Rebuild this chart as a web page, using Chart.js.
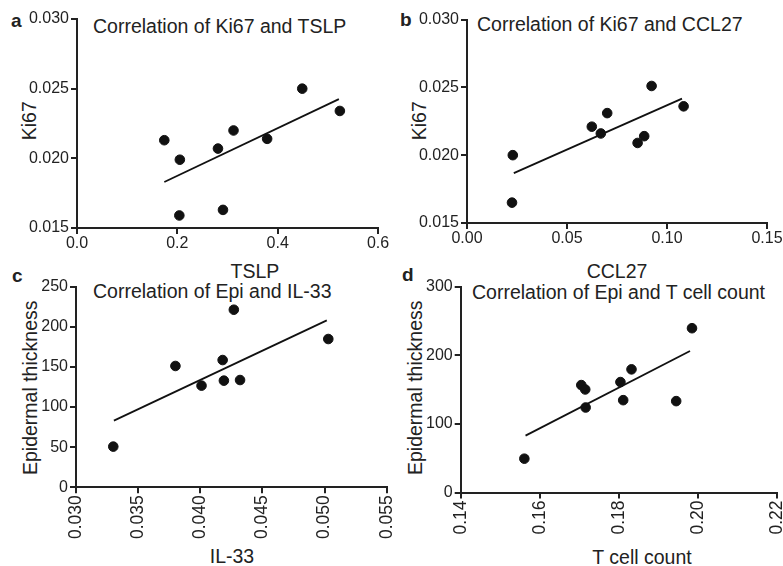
<!DOCTYPE html>
<html>
<head>
<meta charset="utf-8">
<script src="https://cdn.jsdelivr.net/npm/chart.js@4.4.1/dist/chart.umd.min.js"></script>
<style>
  html, body { margin: 0; padding: 0; background: #fff; overflow: hidden; }
  body { width: 783px; height: 566px; position: relative; font-family: "Liberation Sans", Arial, sans-serif; color: #222; }
  canvas { position: absolute; left: 0; top: 0; }
  .txt { position: absolute; white-space: nowrap; line-height: 1; font-size: 19.5px; }
  .letter { position: absolute; font-weight: bold; font-size: 19px; line-height: 1; }
  .xt { text-align: center; width: 200px; }
  .yt { text-align: center; width: 240px; height: 19.5px; transform: rotate(-90deg); }
</style>
</head>
<body>
<div class="letter" style="left:11px;top:11px">a</div>
<div class="letter" style="left:400px;top:10px">b</div>
<div class="letter" style="left:12px;top:266px">c</div>
<div class="letter" style="left:402px;top:265px">d</div>

<div class="txt" style="left:93px;top:17px">Correlation of Ki67 and TSLP</div>
<div class="txt" style="left:477px;top:15px">Correlation of Ki67 and CCL27</div>
<div class="txt" style="left:93px;top:282px">Correlation of Epi and IL-33</div>
<div class="txt" style="left:472px;top:283px">Correlation of Epi and T cell count</div>

<div class="txt xt" style="left:155px;top:262px">TSLP</div>
<div class="txt xt" style="left:517px;top:262px">CCL27</div>
<div class="txt xt" style="left:132px;top:547px">IL-33</div>
<div class="txt xt" style="left:542px;top:548px">T cell count</div>

<div class="txt yt" style="left:-90px;top:111px">Ki67</div>
<div class="txt yt" style="left:300px;top:111px">Ki67</div>
<div class="txt yt" style="left:-89px;top:378px">Epidermal thickness</div>
<div class="txt yt" style="left:296px;top:378px">Epidermal thickness</div>

<canvas id="chartA" width="800" height="580"></canvas>
<canvas id="chartB" width="800" height="580"></canvas>
<canvas id="chartC" width="800" height="580"></canvas>
<canvas id="chartD" width="800" height="580"></canvas>

<script>
// a: Ki67 vs TSLP
const tslpX = [0.174, 0.205, 0.204, 0.281, 0.291, 0.312, 0.379, 0.449, 0.524];
const ki67A = [0.0213, 0.0199, 0.0159, 0.0207, 0.0163, 0.0220, 0.0214, 0.0250, 0.0234];
const fitAX = [0.174, 0.522];
const fitAY = [0.0183, 0.02425];

// b: Ki67 vs CCL27
const ccl27X = [0.0229, 0.0225, 0.0624, 0.0669, 0.0701, 0.0853, 0.0886, 0.0923, 0.1083];
const ki67B = [0.0200, 0.0165, 0.0221, 0.0216, 0.0231, 0.0209, 0.0214, 0.0251, 0.0236];
const fitBX = [0.0234, 0.1075];
const fitBY = [0.01868, 0.02417];

// c: epidermal thickness vs IL-33
const il33X = [0.0330, 0.0380, 0.0401, 0.0418, 0.0419, 0.0432, 0.0427, 0.0503];
const epiC = [50.7, 151.2, 126.7, 158.6, 132.9, 133.7, 221.3, 184.8];
const fitCX = [0.03305, 0.05018];
const fitCY = [83.1, 208.1];

// d: epidermal thickness vs T cell count
const tcellX = [0.1561, 0.1705, 0.1715, 0.1716, 0.1804, 0.1811, 0.1832, 0.1945, 0.1985];
const epiD = [49.3, 156.6, 150.2, 123.9, 161.0, 134.6, 179.5, 133.2, 239.5];
const fitDX = [0.1564, 0.1980];
const fitDY = [82.9, 206.3];

// tick values + labels
const ki67Ticks = [0.015, 0.020, 0.025, 0.030];
const ki67Labels = ["0.015", "0.020", "0.025", "0.030"];
const tslpTicks = [0, 0.2, 0.4, 0.6];
const tslpLabels = ["0.0", "0.2", "0.4", "0.6"];
const ccl27Ticks = [0, 0.05, 0.10, 0.15];
const ccl27Labels = ["0.00", "0.05", "0.10", "0.15"];
const il33Ticks = [0.030, 0.035, 0.040, 0.045, 0.050, 0.055];
const il33Labels = ["0.030", "0.035", "0.040", "0.045", "0.050", "0.055"];
const epiCTicks = [0, 50, 100, 150, 200, 250];
const epiCLabels = ["0", "50", "100", "150", "200", "250"];
const tcellTicks = [0.14, 0.16, 0.18, 0.20, 0.22];
const tcellLabels = ["0.14", "0.16", "0.18", "0.20", "0.22"];
const epiDTicks = [0, 100, 200, 300];
const epiDLabels = ["0", "100", "200", "300"];

const INK = '#111';
const AXIS = '#222';
const CW = 800, CH = 580;
const Y_W = 60;

function toPts(xs, ys) {
  return xs.map((x, i) => ({ x: x, y: ys[i] }));
}

function axis(vals, labels, opts) {
  return {
    type: 'linear',
    position: opts.pos,
    min: vals[0],
    max: vals[vals.length - 1],
    afterBuildTicks: s => { s.ticks = vals.map(v => ({ value: v })); },
    afterFit: s => {
      if (opts.pos === 'left') s.width = Y_W; else s.height = opts.h;
    },
    grid: { display: true, drawOnChartArea: false, drawTicks: true, tickLength: 6, color: AXIS, lineWidth: 2 },
    border: { display: true, color: AXIS, width: 2 },
    ticks: {
      autoSkip: false,
      color: '#222',
      padding: opts.pad,
      font: { family: '"Liberation Sans", Arial, sans-serif', size: opts.size },
      minRotation: opts.rot || 0,
      maxRotation: opts.rot || 0,
      callback: (v, i) => labels[i]
    }
  };
}

// area = [left, top, right, bottom] of the plot box in page pixels
function makePanel(id, xs, ys, fx, fy, xT, xL, yT, yL, area, rotated) {
  const xh = rotated ? 70 : 30;
  new Chart(document.getElementById(id), {
    type: 'scatter',
    data: {
      datasets: [
        {
          data: toPts(xs, ys),
          backgroundColor: INK, borderColor: INK,
          pointRadius: 4.8, pointHoverRadius: 4.8, clip: false
        },
        {
          data: toPts(fx, fy),
          showLine: true, borderColor: INK, borderWidth: 1.8,
          pointRadius: 0, fill: false, clip: false
        }
      ]
    },
    options: {
      responsive: false,
      animation: false,
      devicePixelRatio: 1,
      layout: {
        padding: {
          left: area[0] - Y_W,
          top: area[1],
          right: CW - area[2],
          bottom: CH - area[3] - xh
        }
      },
      plugins: { legend: { display: false }, tooltip: { enabled: false }, title: { display: false } },
      scales: {
        x: axis(xT, xL, { pos: 'bottom', h: xh, size: rotated ? 17.5 : 16, pad: rotated ? 2 : 0, rot: rotated ? 90 : 0 }),
        y: axis(yT, yL, { pos: 'left', size: 16, pad: 2 })
      }
    }
  });
}

makePanel('chartA', tslpX, ki67A, fitAX, fitAY, tslpTicks, tslpLabels, ki67Ticks, ki67Labels, [77, 19, 378, 228], false);
makePanel('chartB', ccl27X, ki67B, fitBX, fitBY, ccl27Ticks, ccl27Labels, ki67Ticks, ki67Labels, [467, 19.5, 767, 223], false);
makePanel('chartC', il33X, epiC, fitCX, fitCY, il33Ticks, il33Labels, epiCTicks, epiCLabels, [76, 286.7, 386.7, 487.3], true);
makePanel('chartD', tcellX, epiD, fitDX, fitDY, tcellTicks, tcellLabels, epiDTicks, epiDLabels, [460.7, 286.7, 777, 492.5], true);
</script>
</body>
</html>
